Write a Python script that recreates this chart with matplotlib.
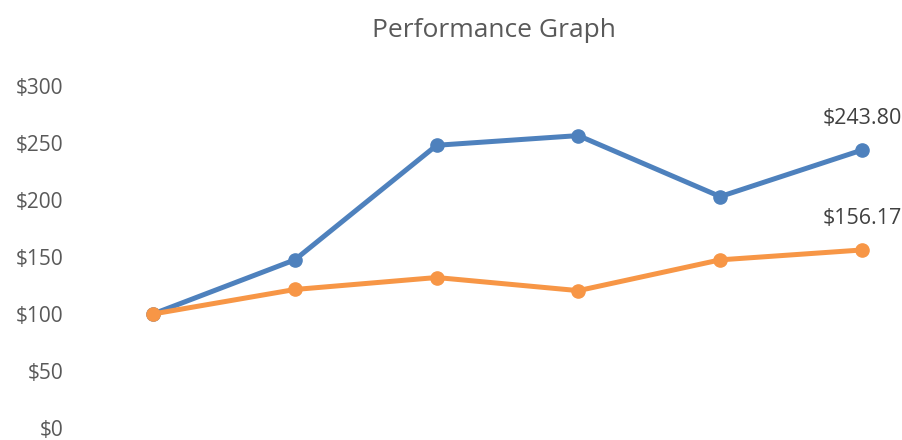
import matplotlib
matplotlib.use("Agg")
import matplotlib.pyplot as plt
import matplotlib.ticker as ticker

plt.rcParams['font.family'] = ['Open Sans', 'DejaVu Sans']

periods = [0, 1, 2, 3, 4, 5]
series_a = [100, 147.5, 248, 256.5, 203, 243.80]
series_b = [100, 121.5, 132, 120.5, 147.5, 156.17]
end_labels = ["$243.80", "$156.17"]
yticks = [0, 50, 100, 150, 200, 250, 300]

blue = '#4E81BD'
orange = '#F79646'
grey = '#595959'

fig = plt.figure(figsize=(9.03, 4.40), dpi=100)
ax = fig.add_axes([80/903, 12/440, 820/903, 342/440])

ax.plot(periods, series_a, color=blue, lw=3.6, marker='o', ms=9.5, solid_capstyle='round')
ax.plot(periods, series_b, color=orange, lw=3.6, marker='o', ms=9.5, solid_capstyle='round')

ax.annotate(end_labels[0], (periods[-1], series_a[-1]), xytext=(0, 23), textcoords='offset points',
            ha='center', va='center', fontsize=15.5, color='#404040')
ax.annotate(end_labels[1], (periods[-1], series_b[-1]), xytext=(0, 23), textcoords='offset points',
            ha='center', va='center', fontsize=15.5, color='#404040')

ax.set_xlim(-0.515, 5.268)
ax.set_ylim(0, 300)
ax.set_yticks(yticks)
ax.yaxis.set_major_formatter(ticker.FuncFormatter(lambda v, p: "$%d" % v))
ax.set_xticks([])
for s in ax.spines.values():
    s.set_visible(False)
ax.tick_params(axis='y', length=0, labelsize=15, labelcolor=grey, pad=12)

fig.text(0.547, 0.93, "Performance Graph", ha='center', va='center', fontsize=19, color=grey)

fig.savefig("out.png", dpi=100)
